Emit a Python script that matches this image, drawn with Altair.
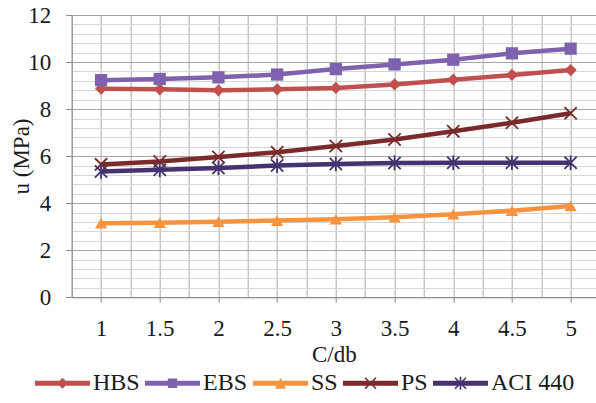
import altair as alt
import pandas as pd

# C/db ratios on the x axis and bond strength u (MPa) per model
ratios = [1, 1.5, 2, 2.5, 3, 3.5, 4, 4.5, 5]
hbs = [8.87, 8.84, 8.80, 8.84, 8.90, 9.05, 9.25, 9.45, 9.66]
ebs = [9.23, 9.28, 9.35, 9.47, 9.70, 9.90, 10.10, 10.37, 10.57]
ss = [3.15, 3.17, 3.21, 3.26, 3.32, 3.40, 3.53, 3.68, 3.88]
ps = [5.65, 5.77, 5.96, 6.17, 6.43, 6.71, 7.06, 7.42, 7.82]
aci = [5.35, 5.42, 5.50, 5.60, 5.67, 5.71, 5.72, 5.72, 5.72]

series_names = ["HBS", "EBS", "SS", "PS", "ACI 440"]
series_values = [hbs, ebs, ss, ps, aci]
series_colors = ["#C0504D", "#7F62AE", "#F7923F", "#7A2A2A", "#45336F"]

FONT = "Liberation Serif, Times New Roman, serif"
TEXT = "#1a1a1a"


def poly(points):
    """Closed SVG polygon, always wound the same way so unions fill solid."""
    area = sum(x0 * y1 - x1 * y0
               for (x0, y0), (x1, y1) in zip(points, points[1:] + points[:1]))
    if area < 0:
        points = points[::-1]
    return "M" + "L".join(f"{x:.3f},{y:.3f}" for x, y in points) + "Z"


def cross_arms(r, t):
    a = t / 2 ** 0.5
    arm1 = [(-r - a, -r + a), (r - a, r + a), (r + a, r - a), (-r + a, -r - a)]
    arm2 = [(-r - a, r - a), (r - a, -r - a), (r + a, -r + a), (-r + a, r + a)]
    return poly(arm1) + poly(arm2)


def vbar(r, t):
    return poly([(-t, -r), (t, -r), (t, r), (-t, r)])


# markers drawn on the data points
marker_shapes = [
    "diamond",
    "square",
    "triangle-up",
    cross_arms(1, 0.15),
    cross_arms(1, 0.15) + vbar(1.2, 0.15),
]

# legend keys: a thick line segment with the marker in its middle
line_key = poly([(-1, -0.09), (1, -0.09), (1, 0.09), (-1, 0.09)])
m = 0.2
key_shapes = [
    line_key + poly([(0, -m), (m, 0), (0, m), (-m, 0)]),
    line_key + poly([(-0.17, -0.17), (0.17, -0.17), (0.17, 0.17), (-0.17, 0.17)]),
    line_key + poly([(0, -m), (m, m), (-m, m)]),
    line_key + cross_arms(m, 0.03),
    line_key + cross_arms(m, 0.03) + vbar(0.24, 0.03),
]

rows = []
for name, vals in zip(series_names, series_values):
    for r, v in zip(ratios, vals):
        rows.append({"ratio": r, "u": v, "series": name})
df = pd.DataFrame(rows)

x_ticks = [0.75 + 0.25 * i for i in range(18)]
y_ticks = [round(0.4 * i, 1) for i in range(31)]
is_cat = "datum.value >= 1 && datum.value * 2 == round(datum.value * 2)"
is_major = "abs(datum.value / 2 - round(datum.value / 2)) < 0.001"

x_enc = alt.X(
    "ratio:Q",
    scale=alt.Scale(domain=[0.75, 5.216], nice=False, zero=False),
    axis=alt.Axis(
        title="C/db",
        values=x_ticks,
        labelExpr=f"{is_cat} ? datum.value + '' : ''",
        grid=True,
        gridColor="#ababab",
        gridWidth=1,
        tickColor={"condition": {"test": is_cat, "value": "#8a8a8a"},
                   "value": "transparent"},
        tickSize=5,
        domainColor="#8a8a8a",
        labelFont=FONT,
        labelFontSize=23,
        labelColor=TEXT,
        labelPadding=15,
        labelFlush=False,
        labelOverlap=False,
        titleFont=FONT,
        titleFontSize=23,
        titleFontWeight="normal",
        titleColor=TEXT,
        titleY=46,
    ),
)

y_enc = alt.Y(
    "u:Q",
    scale=alt.Scale(domain=[0, 12], nice=False),
    axis=alt.Axis(
        title="u (MPa)",
        values=y_ticks,
        labelExpr=f"{is_major} ? datum.value + '' : ''",
        grid=True,
        gridColor={"condition": {"test": is_major, "value": "#a6a6a6"},
                   "value": "#d6d6d6"},
        gridWidth=1,
        tickColor={"condition": {"test": is_major, "value": "#8a8a8a"},
                   "value": "transparent"},
        tickSize=6,
        domainColor="#8a8a8a",
        labelFont=FONT,
        labelFontSize=23,
        labelColor=TEXT,
        labelPadding=15,
        labelFlush=False,
        labelOverlap=False,
        titleFont=FONT,
        titleFontSize=23,
        titleFontWeight="normal",
        titleColor=TEXT,
        titleX=-38,
        titleY=141,
    ),
)

color_scale = alt.Scale(domain=series_names, range=series_colors)

lines = alt.Chart(df).mark_line(strokeWidth=4.5).encode(
    x=x_enc,
    y=y_enc,
    color=alt.Color("series:N", scale=color_scale, legend=None),
)

points = alt.Chart(df).mark_point(filled=True, size=150, opacity=1, strokeWidth=0).encode(
    x=x_enc,
    y=y_enc,
    color=alt.Color("series:N", scale=color_scale, legend=None),
    shape=alt.Shape("series:N",
                    scale=alt.Scale(domain=series_names, range=marker_shapes),
                    legend=None),
)

legend_style = alt.Legend(
    title=None,
    orient="none",
    legendX=-36.7,
    legendY=340.5,
    direction="horizontal",
    symbolSize=3025,
    symbolStrokeWidth=0,
    labelFont=FONT,
    labelFontSize=24,
    labelColor=TEXT,
    labelOffset=3,
    columnPadding=5,
    padding=0,
    labelLimit=300,
)

key = alt.Chart(df).transform_filter("false").mark_point(
    filled=True, opacity=1, strokeWidth=0
).encode(
    x=x_enc,
    y=y_enc,
    color=alt.Color("series:N", scale=color_scale, legend=legend_style),
    shape=alt.Shape("series:N",
                    scale=alt.Scale(domain=series_names, range=key_shapes),
                    legend=legend_style),
)

chart = (
    alt.layer(lines, points, key)
    .resolve_scale(color="independent", shape="independent")
    .properties(
        width=524.3,
        height=282.3,
        autosize=alt.AutoSizeParams(type="none"),
        padding={"left": 71.7, "top": 15, "right": 0, "bottom": 105.7},
        background="white",
    )
    .configure_view(stroke=None)
)

chart.save("out.html", embed_options={"renderer": "svg", "actions": False})
